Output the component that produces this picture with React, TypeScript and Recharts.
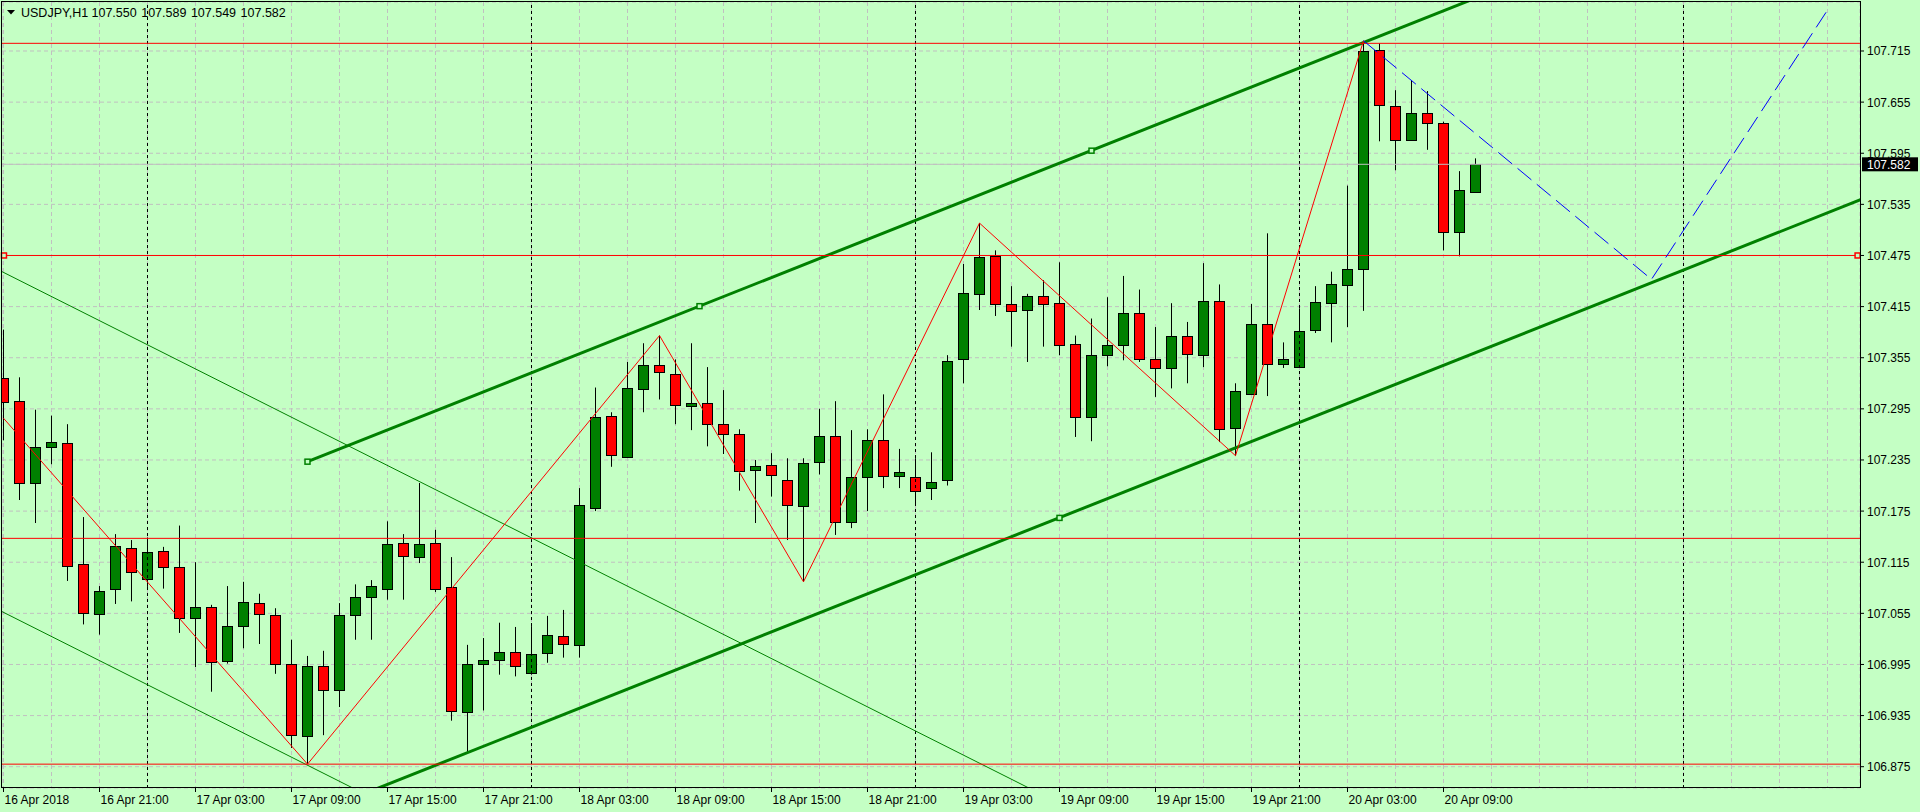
import { ComposedChart, Bar, Line, XAxis, YAxis, CartesianGrid, ReferenceLine, ReferenceDot } from 'recharts'

const FONT = "'Liberation Sans', Arial, sans-serif"
const BG = '#C4FFC4'

// USDJPY H1, bar 0 = 16 Apr 2018 15:00
const opens = [
  107.331, 107.304, 107.208, 107.250, 107.255, 107.113, 107.054, 107.083, 107.132, 107.095,
  107.128, 107.109, 107.049, 107.063, 106.999, 107.040, 107.067, 107.053, 106.996, 106.911,
  106.993, 106.965, 107.053, 107.074, 107.084, 107.137, 107.121, 107.138, 107.086, 106.939,
  106.995, 107.000, 107.010, 106.985, 107.008, 107.028, 107.018, 107.179, 107.287, 107.239,
  107.318, 107.347, 107.336, 107.298, 107.302, 107.277, 107.266, 107.223, 107.229, 107.211,
  107.181, 107.233, 107.263, 107.162, 107.215, 107.258, 107.216, 107.215, 107.202, 107.212,
  107.353, 107.430, 107.474, 107.418, 107.411, 107.427, 107.419, 107.371, 107.286, 107.358,
  107.370, 107.407, 107.354, 107.343, 107.380, 107.358, 107.421, 107.272, 107.313, 107.395,
  107.348, 107.344, 107.387, 107.419, 107.440, 107.459, 107.716, 107.651, 107.611, 107.642,
  107.631, 107.502, 107.550,
]
const highs = [
  107.388, 107.332, 107.294, 107.287, 107.277, 107.168, 107.087, 107.148, 107.141, 107.144,
  107.133, 107.158, 107.115, 107.065, 107.087, 107.092, 107.078, 107.061, 107.024, 107.005,
  107.011, 107.067, 107.089, 107.094, 107.163, 107.148, 107.208, 107.153, 107.121, 107.018,
  107.026, 107.044, 107.039, 107.040, 107.052, 107.059, 107.202, 107.320, 107.291, 107.350,
  107.372, 107.381, 107.353, 107.372, 107.344, 107.317, 107.271, 107.235, 107.243, 107.237,
  107.237, 107.295, 107.304, 107.270, 107.271, 107.312, 107.248, 107.237, 107.244, 107.358,
  107.465, 107.513, 107.481, 107.439, 107.430, 107.446, 107.467, 107.381, 107.401, 107.426,
  107.451, 107.435, 107.391, 107.419, 107.397, 107.466, 107.441, 107.325, 107.418, 107.501,
  107.373, 107.413, 107.439, 107.456, 107.557, 107.727, 107.724, 107.669, 107.681, 107.668,
  107.632, 107.574, 107.589,
]
const lows = [
  107.258, 107.188, 107.161, 107.230, 107.093, 107.042, 107.030, 107.066, 107.069, 107.086,
  107.084, 107.032, 106.992, 106.963, 106.996, 107.014, 107.019, 106.984, 106.897, 106.878,
  106.912, 106.945, 107.024, 107.024, 107.071, 107.071, 107.114, 107.080, 106.929, 106.892,
  106.941, 106.983, 106.981, 106.983, 106.997, 107.003, 107.003, 107.175, 107.227, 107.238,
  107.291, 107.306, 107.277, 107.270, 107.251, 107.242, 107.199, 107.161, 107.192, 107.141,
  107.092, 107.218, 107.147, 107.155, 107.175, 107.202, 107.202, 107.182, 107.188, 107.205,
  107.325, 107.411, 107.404, 107.368, 107.350, 107.368, 107.358, 107.262, 107.257, 107.345,
  107.352, 107.350, 107.309, 107.319, 107.325, 107.344, 107.256, 107.240, 107.312, 107.310,
  107.343, 107.343, 107.384, 107.373, 107.391, 107.410, 107.609, 107.575, 107.610, 107.599,
  107.481, 107.474, 107.549,
]
const closes = [
  107.303, 107.208, 107.250, 107.256, 107.111, 107.055, 107.081, 107.134, 107.103, 107.127,
  107.109, 107.049, 107.063, 106.998, 107.040, 107.068, 107.054, 106.996, 106.912, 106.993,
  106.965, 107.053, 107.074, 107.087, 107.136, 107.122, 107.136, 107.083, 106.940, 106.995,
  107.000, 107.010, 106.993, 107.007, 107.029, 107.019, 107.182, 107.285, 107.241, 107.319,
  107.346, 107.338, 107.299, 107.302, 107.277, 107.266, 107.222, 107.228, 107.217, 107.182,
  107.232, 107.263, 107.162, 107.215, 107.258, 107.216, 107.221, 107.199, 107.209, 107.351,
  107.431, 107.473, 107.418, 107.410, 107.428, 107.418, 107.370, 107.286, 107.358, 107.370,
  107.407, 107.354, 107.343, 107.381, 107.359, 107.421, 107.271, 107.316, 107.395, 107.348,
  107.354, 107.386, 107.420, 107.441, 107.459, 107.715, 107.652, 107.610, 107.642, 107.631,
  107.503, 107.552, 107.582,
]

const labelBars = [0, 6, 12, 18, 24, 30, 36, 42, 48, 54, 60, 66, 72, 78, 84, 90]
const timeLabels = [
  '16 Apr 2018', '16 Apr 21:00', '17 Apr 03:00', '17 Apr 09:00', '17 Apr 15:00', '17 Apr 21:00',
  '18 Apr 03:00', '18 Apr 09:00', '18 Apr 15:00', '18 Apr 21:00', '19 Apr 03:00', '19 Apr 09:00',
  '19 Apr 15:00', '19 Apr 21:00', '20 Apr 03:00', '20 Apr 09:00',
]
const gridBars = [
  0, 3, 6, 9, 12, 15, 18, 21, 24, 27, 30, 33, 36, 39, 42, 45, 48, 51, 54, 57,
  60, 63, 66, 69, 72, 75, 78, 81, 84, 87, 90, 93, 96, 99, 102, 105, 108, 111, 114,
]
const daySeparators = [9, 33, 57, 81, 105]
const priceTicks = [
  106.875, 106.935, 106.995, 107.055, 107.115, 107.175, 107.235, 107.295,
  107.355, 107.415, 107.475, 107.535, 107.595, 107.655, 107.715,
]
const lastPrice = 107.582
const levels = [107.724, 107.475, 107.143, 106.878]

const symbolName = 'USDJPY,H1'
const lastBarOHLC = ['107.550', '107.589', '107.549', '107.582']

const zigzagBars = [0, 19, 41, 50, 61, 77, 85]
const zigzagPrices = [107.284, 106.878, 107.381, 107.092, 107.513, 107.240, 107.727]
const forecastBars = [85, 103, 114]
const forecastPrices = [107.727, 107.447, 107.763]

// rising channel (thick) and falling channel (thin), endpoints in [bar, price]
const channelUp = [[19, 107.233], [125, 108.023]]
const channelLow = [[19, 106.817], [125, 107.607]]
const fallA = [[-20, 107.644], [120, 106.322]]
const fallB = [[-20, 107.245], [120, 105.923]]
const channelMarks = [[19, 107.233], [43.5, 107.4155], [68, 107.598], [66, 107.167]]
const levelMarks = [[0.03, 107.475], [115.88, 107.475]]

const candles = opens.map((o, i) => ({
  i, o, h: highs[i], l: lows[i], c: closes[i], range: [lows[i], highs[i]],
}))
const zigzag = zigzagBars.map((i, n) => ({ i, p: zigzagPrices[n] }))
const forecast = forecastBars.map((i, n) => ({ i, p: forecastPrices[n] }))
const seg = (s: number[][]) => s.map(([x, y]) => ({ x, y }))

function Candle(props: any) {
  const { x, y, width, height, payload } = props
  if (height == null || !payload) return <g />
  const cx = Math.floor(x + width / 2) + 0.5
  const k = height / (payload.h - payload.l)
  const yo = y + (payload.h - payload.o) * k
  const yc = y + (payload.h - payload.c) * k
  const top = Math.round(Math.min(yo, yc)) + 0.5
  const bot = Math.round(Math.max(yo, yc)) + 0.5
  const up = payload.c >= payload.o
  return (
    <g>
      <line x1={cx} x2={cx} y1={y} y2={y + height} stroke="#000" />
      <rect x={cx - 5} y={top} width={10} height={Math.max(bot - top, 1)}
        fill={up ? '#008000' : '#ff0000'} stroke="#000" />
    </g>
  )
}

function TimeTick({ x, y, payload }: any) {
  const n = labelBars.indexOf(payload.value)
  if (n < 0) return <g />
  return (
    <g>
      <line x1={x} x2={x} y1={y - 4} y2={y} stroke="#000" />
      <text x={x + 1} y={y + 12} fontSize={12} fontFamily={FONT} fill="#000">{timeLabels[n]}</text>
    </g>
  )
}

function PriceTick({ x, y, payload }: any) {
  const v = payload.value
  if (v === lastPrice) {
    return (
      <g>
        <rect x={x - 5} y={y - 7} width={56} height={14} fill="#000" />
        <text x={x} y={y + 4.5} fontSize={12} fontFamily={FONT} fill="#fff">{v.toFixed(3)}</text>
      </g>
    )
  }
  return (
    <g>
      <line x1={x - 7} x2={x - 3} y1={y} y2={y} stroke="#000" />
      <text x={x} y={y + 4.5} fontSize={12} fontFamily={FONT} fill="#000">{v.toFixed(3)}</text>
    </g>
  )
}

const Square = (color: string) => (p: any) => (
  <rect x={p.cx - 2.5} y={p.cy - 2.5} width={5} height={5} fill={BG} stroke={color} strokeWidth={1.5} />
)

export default function App() {
  return (
    <div style={{ position: 'absolute', left: 0, top: 0, width: 1920, height: 812, background: BG, fontFamily: FONT }}>
      <ComposedChart width={1920} height={812} data={candles}
        margin={{ top: 2, right: 2, bottom: 2, left: 2 }}>
        <CartesianGrid stroke="#c0c0c0" strokeDasharray="4 3" />
        <XAxis dataKey="i" type="number" domain={[-0.09375, 116.03125]} allowDataOverflow
          ticks={gridBars} interval={0} height={22} tickSize={4} tickMargin={0}
          tickLine={false} axisLine={false} tick={<TimeTick />} />
        <YAxis orientation="right" type="number" domain={[106.85, 107.7725]} allowDataOverflow
          ticks={[...priceTicks, lastPrice]} interval={0} width={58} tickSize={4} tickMargin={3}
          tickLine={false} axisLine={false} tick={<PriceTick />} />
        {daySeparators.map((d) => (
          <ReferenceLine key={'d' + d} x={d} stroke="#000" strokeDasharray="3 3" />
        ))}
        <ReferenceLine y={lastPrice} stroke="#c0c0c0" />
        <Bar dataKey="range" barSize={11} shape={<Candle />} isAnimationActive={false} />
        <ReferenceLine segment={seg(fallA)} stroke="#008000" strokeWidth={1} ifOverflow="hidden" />
        <ReferenceLine segment={seg(fallB)} stroke="#008000" strokeWidth={1} ifOverflow="hidden" />
        <ReferenceLine segment={seg(channelUp)} stroke="#008000" strokeWidth={3} ifOverflow="hidden" />
        <ReferenceLine segment={seg(channelLow)} stroke="#008000" strokeWidth={3} ifOverflow="hidden" />
        {levels.map((v) => (
          <ReferenceLine key={'l' + v} y={v} stroke="#ff0000" />
        ))}
        <Line data={zigzag} dataKey="p" type="linear" stroke="#ff0000" strokeWidth={1}
          dot={false} activeDot={false} isAnimationActive={false} />
        <Line data={forecast} dataKey="p" type="linear" stroke="#0000ff" strokeWidth={1}
          strokeDasharray="18 7" dot={false} activeDot={false} isAnimationActive={false} />
        {channelMarks.map(([x, y]) => (
          <ReferenceDot key={'m' + x} x={x} y={y} r={3} shape={Square('#008000')} />
        ))}
        {levelMarks.map(([x, y]) => (
          <ReferenceDot key={'r' + x} x={x} y={y} r={3} shape={Square('#ff0000')} />
        ))}
      </ComposedChart>
      <svg width={1920} height={812} style={{ position: 'absolute', left: 0, top: 0, pointerEvents: 'none' }}>
        <rect x={1.5} y={1.5} width={1859} height={786} fill="none" stroke="#000" />
        <polygon points="7,10 15,10 11,14.5" fill="#000" />
        <text y={17} fontSize={12.5} fontFamily={FONT} fill="#000">
          <tspan x={21}>{symbolName}</tspan>
          {lastBarOHLC.map((s, n) => (
            <tspan key={n} x={91.5 + n * 49.7}>{s}</tspan>
          ))}
        </text>
      </svg>
    </div>
  )
}
